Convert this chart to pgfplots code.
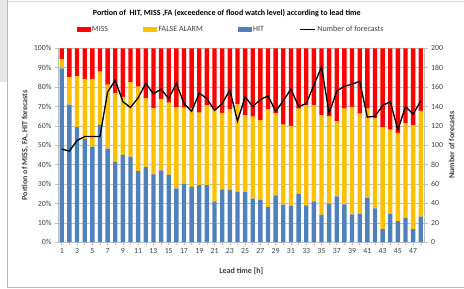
\documentclass[border=0pt]{standalone}
\usepackage{pgfplots}
\pgfplotsset{compat=1.18}
\usepackage{pgfplotstable}
\usepackage{fontspec}
\setmainfont{Carlito}
\definecolor{cmiss}{HTML}{FF0000}
\definecolor{cfa}{HTML}{FFC000}
\definecolor{chit}{HTML}{4F81BD}
\definecolor{ctxt}{HTML}{404040}
\definecolor{cgrid}{HTML}{BFBFBF}
\pgfplotstableread{
x hit fa miss n
1 89.7 4.8 5.5 96
2 71.0 14.0 15.0 94
3 59.3 26.4 14.3 105
4 53.3 30.9 15.8 109
5 49.3 34.9 15.8 109
6 60.5 27.5 12.0 109
7 48.3 33.0 18.7 155
8 41.6 35.2 23.2 167
9 45.0 30.0 25.0 145
10 44.2 38.4 17.4 139
11 36.6 43.6 19.8 149
12 38.7 35.5 25.8 164
13 35.0 34.0 31.0 153
14 37.1 36.9 26.0 158
15 34.9 37.1 28.0 148
16 27.8 41.9 30.3 164
17 30.2 39.2 30.6 143
18 28.5 40.4 31.1 135
19 29.4 37.4 33.2 154
20 29.4 41.2 29.4 148
21 21.1 47.5 31.4 136
22 27.3 39.4 33.3 143
23 27.0 41.6 31.4 157
24 25.9 45.2 28.9 125
25 25.8 39.7 34.5 150
26 22.5 42.3 35.2 140
27 22.0 41.0 37.0 147
28 18.2 50.4 31.4 151
29 24.1 42.4 33.5 135
30 19.4 41.3 39.3 146
31 18.7 41.3 40.0 158
32 25.0 43.9 31.1 140
33 19.0 51.6 29.4 143
34 21.0 49.6 29.4 162
35 14.2 51.4 34.4 181
36 19.9 45.0 35.1 133
37 23.6 38.9 37.5 156
38 19.5 49.4 31.1 161
39 14.4 55.4 30.2 163
40 14.8 51.5 33.7 166
41 23.0 45.9 31.1 129
42 17.4 46.5 36.1 130
43 6.7 52.7 40.6 141
44 14.8 43.3 41.9 145
45 10.9 45.5 43.6 116
46 12.6 48.7 38.7 140
47 6.7 53.6 39.7 132
48 13.2 54.5 32.3 146
}\data
\begin{document}
\begin{tikzpicture}
\begin{axis}[
  name=ax, scale only axis,
  width=367pt, height=194pt,
  clip=false,
  ybar stacked, bar width=0.57,
  xmin=0.5, xmax=48.5, ymin=0, ymax=100,
  ytick={0,10,...,100},
  yticklabel={\pgfmathprintnumber{\tick}\%},
  xtick={1,...,48},
  xticklabels={1,,3,,5,,7,,9,,11,,13,,15,,17,,19,,21,,23,,25,,27,,29,,31,,33,,35,,37,,39,,41,,43,,45,,47,},
  axis y line*=left, axis x line*=bottom,
  axis line style={cgrid, line width=0.6pt},
  ymajorgrids, grid style={cgrid, line width=0.6pt},
  tick style={cgrid, line width=0.6pt}, tick align=outside, major tick length=3pt,
  /pgf/number format/assume math mode=true,
  ticklabel style={font=\fontsize{7.8}{9}\selectfont, text=ctxt},
  xlabel={Lead time [h]},
  xlabel style={at={(axis description cs:0.5,-0.1495)}, anchor=center, font=\bfseries\fontsize{8}{9}\selectfont, text=ctxt},
  ylabel={Portion of MISS, FA, HIT forecasts},
  ylabel style={at={(axis description cs:-0.0899,0.5)}, anchor=center, font=\bfseries\fontsize{8}{9}\selectfont, text=ctxt},
  legend columns=4,
  legend style={draw=none, fill=none, at={(0.472,1.098)}, anchor=center, font=\fontsize{8}{9}\selectfont, text=ctxt,
    /tikz/every even column/.append style={column sep=33pt}},
]
\addplot[fill=chit, draw=none, forget plot] table[x=x, y=hit]{\data};
\addplot[fill=cfa, draw=none, forget plot] table[x=x, y=fa]{\data};
\addplot[fill=cmiss, draw=none, forget plot] table[x=x, y=miss]{\data};
\addlegendimage{legend image code/.code={\fill[cmiss] (0pt,-2pt) rectangle (13pt,2pt);}}
\addlegendentry{MISS}
\addlegendimage{legend image code/.code={\fill[cfa] (0pt,-2pt) rectangle (13pt,2pt);}}
\addlegendentry{FALSE ALARM}
\addlegendimage{legend image code/.code={\fill[chit] (0pt,-2pt) rectangle (13pt,2pt);}}
\addlegendentry{HIT}
\addlegendimage{legend image code/.code={\draw[black, line width=1.3pt] (0pt,0pt) -- (15pt,0pt);}}
\addlegendentry{Number of forecasts}
% page extent and frame
\path (axis description cs:-0.15804,-0.23711) rectangle (axis description cs:1.10627,1.24742);
\fill[gray!18] (axis description cs:-0.15804,1.24742) rectangle (axis description cs:-0.13896,0.8247);
\draw[gray!55, line width=0.8pt] (axis description cs:-0.13896,1.24742) -- (axis description cs:-0.13896,-0.23454) -- (axis description cs:1.10627,-0.23454);
\draw[gray!30, line width=0.6pt] (axis description cs:-0.13896,1.2423) -- (axis description cs:1.10627,1.2423);
\node[font=\bfseries\fontsize{8}{9}\selectfont, text=black] at (axis description cs:0.4605,1.1804) {Portion of\ \ HIT, MISS ,FA (exceedence of flood watch level) according to lead time};
\end{axis}
\begin{axis}[
  scale only axis,
  width=367pt, height=194pt,
  xmin=0.5, xmax=48.5, ymin=0, ymax=200,
  ytick={0,20,...,200},
  axis y line*=right, axis x line=none,
  axis line style={cgrid, line width=0.6pt},
  tick style={cgrid, line width=0.6pt}, tick align=outside, major tick length=3pt,
  /pgf/number format/assume math mode=true,
  ticklabel style={font=\fontsize{7.8}{9}\selectfont, text=ctxt},
  ylabel={Number of forecasts},
  ylabel style={at={(axis description cs:1.0736,0.5)}, anchor=center, font=\bfseries\fontsize{8}{9}\selectfont, text=ctxt},
]
\addplot[black, line width=1.3pt, mark=none] table[x=x, y=n]{\data};
\end{axis}
\end{tikzpicture}
\end{document}
